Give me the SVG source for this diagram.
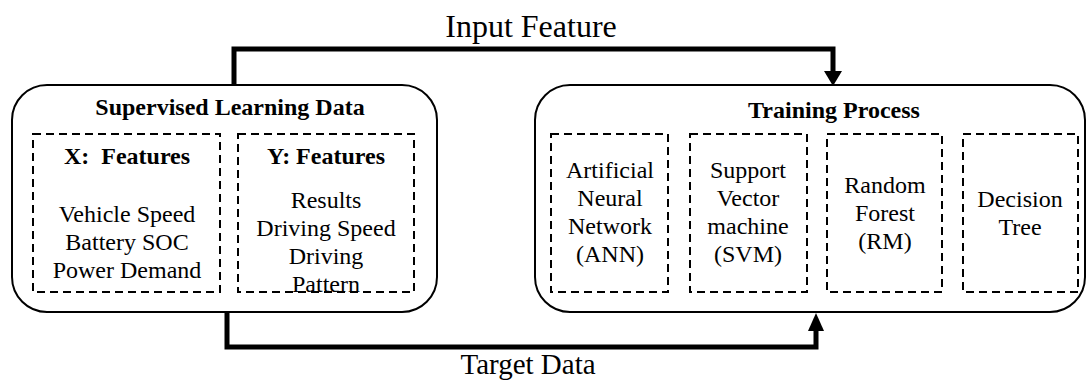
<svg xmlns="http://www.w3.org/2000/svg" width="1086" height="380" viewBox="0 0 1086 380" font-family="'Liberation Serif', 'Times New Roman', serif">
<defs>
<style>
.outer{fill:none;stroke:#000;stroke-width:2}
.dash{fill:none;stroke:#000;stroke-width:2;stroke-dasharray:8 5}
.txt{font-family:'Liberation Serif','Times New Roman',serif;font-size:24px;fill:#000;text-anchor:middle}
.bold{font-weight:bold}
.big{font-family:'Liberation Serif','Times New Roman',serif;font-size:32px;fill:#000;text-anchor:middle}
.conn{fill:none;stroke:#000;stroke-width:5}
.head{fill:#000}
</style>
</defs>
<rect width="1086" height="380" fill="#fff"/>
<g id="input-label"><text class="big" x="531" y="37">Input Feature</text></g>
<g id="target-label"><text class="big" x="528" y="374" style="font-size:29px">Target Data</text></g>
<g id="supervised">
<rect class="outer" x="12" y="85" width="425" height="227" rx="35"/>
<text class="txt bold" x="230" y="115" font-family="'Liberation Serif', serif">Supervised Learning Data</text>
<g id="x-features">
<rect class="dash" x="33" y="134" width="187" height="158"/>
<text class="txt bold" x="127" y="164" font-family="'Liberation Serif', serif" xml:space="preserve">X:  Features</text>
<text class="txt" x="127" y="222" font-family="'Liberation Serif', serif">Vehicle Speed</text>
<text class="txt" x="127" y="250" font-family="'Liberation Serif', serif">Battery SOC</text>
<text class="txt" x="127" y="278" font-family="'Liberation Serif', serif">Power Demand</text>
</g>
<g id="y-features">
<rect class="dash" x="238" y="134" width="176" height="158"/>
<text class="txt bold" x="326" y="164" font-family="'Liberation Serif', serif">Y: Features</text>
<text class="txt" x="326" y="208" font-family="'Liberation Serif', serif">Results</text>
<text class="txt" x="326" y="236" font-family="'Liberation Serif', serif">Driving Speed</text>
<text class="txt" x="326" y="264" font-family="'Liberation Serif', serif">Driving</text>
<text class="txt" x="326" y="292" font-family="'Liberation Serif', serif">Pattern</text>
</g>
</g>
<g id="training">
<rect class="outer" x="535" y="85" width="550" height="227" rx="35"/>
<text class="txt bold" x="834" y="118" font-family="'Liberation Serif', serif">Training Process</text>
<g id="ann">
<rect class="dash" x="551" y="134" width="117" height="158"/>
<text class="txt" x="610" y="178" font-family="'Liberation Serif', serif">Artificial</text>
<text class="txt" x="610" y="206" font-family="'Liberation Serif', serif">Neural</text>
<text class="txt" x="610" y="234" font-family="'Liberation Serif', serif">Network</text>
<text class="txt" x="610" y="262" font-family="'Liberation Serif', serif">(ANN)</text>
</g>
<g id="svm">
<rect class="dash" x="690" y="134" width="117" height="158"/>
<text class="txt" x="748" y="178" font-family="'Liberation Serif', serif">Support</text>
<text class="txt" x="748" y="206" font-family="'Liberation Serif', serif">Vector</text>
<text class="txt" x="748" y="234" font-family="'Liberation Serif', serif">machine</text>
<text class="txt" x="748" y="262" font-family="'Liberation Serif', serif">(SVM)</text>
</g>
<g id="rf">
<rect class="dash" x="827" y="134" width="115" height="158"/>
<text class="txt" x="885" y="193" font-family="'Liberation Serif', serif">Random</text>
<text class="txt" x="885" y="221" font-family="'Liberation Serif', serif">Forest</text>
<text class="txt" x="885" y="249" font-family="'Liberation Serif', serif">(RM)</text>
</g>
<g id="dt">
<rect class="dash" x="963" y="134" width="115" height="158"/>
<text class="txt" x="1020" y="207" font-family="'Liberation Serif', serif">Decision</text>
<text class="txt" x="1020" y="235" font-family="'Liberation Serif', serif">Tree</text>
</g>
</g>
<g id="connectors">
<path class="conn" d="M234,85 V49 H833 V73"/>
<polygon class="head" points="824,71 842,71 833,86"/>
<path class="conn" d="M227,312 V347 H816 V329"/>
<polygon class="head" points="808,331 824,331 816,313"/>
</g>
</svg>
